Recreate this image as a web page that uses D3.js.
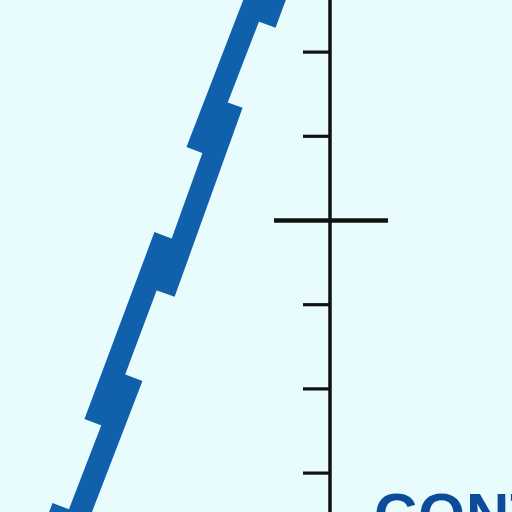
<!DOCTYPE html>
<html>
<head>
<meta charset="utf-8">
<script src="https://cdn.jsdelivr.net/npm/d3@7"></script>
<style>
  html, body { margin: 0; padding: 0; background: #e8fbfd; }
  svg { display: block; }
</style>
</head>
<body>
<div id="chart"></div>
<script>
// ---- data (in axis units; one unit = one tick interval) ----
const segStartX = [-0.32, -0.704, -1.164, -1.960, -2.352, -3.171];
const segStartY = [ 3.56,  3.088,  1.378, -0.190, -1.865, -3.409];
const segEndX   = [-0.772, -1.580, -1.971, -2.791, -3.373, -3.587];
const segEndY   = [ 2.328,  0.819, -0.867, -2.411, -4.513, -4.513];
const tickValues = [-3, -2, -1, 0, 1, 2];
const majorTick = 0;
const labelText = "CONT";

const W = 512, H = 512;
const unit = 84.2;
const x = d3.scaleLinear().domain([0, 1]).range([330, 330 + unit]);
const y = d3.scaleLinear().domain([0, 1]).range([220, 220 - unit]);

const svg = d3.select("#chart").append("svg")
  .attr("width", W).attr("height", H);

svg.append("rect").attr("width", W).attr("height", H).attr("fill", "#e8fbfd");

const segs = segStartX.map((d, i) => ({
  x1: d, y1: segStartY[i], x2: segEndX[i], y2: segEndY[i]
}));

// thick band segments (butt caps, overlapping -> block look)
svg.append("g").selectAll("line").data(segs).join("line")
  .attr("x1", d => x(d.x1)).attr("y1", d => y(d.y1))
  .attr("x2", d => x(d.x2)).attr("y2", d => y(d.y2))
  .attr("stroke", "#1160ab")
  .attr("stroke-width", 22.5)
  .attr("stroke-linecap", "butt");

// vertical axis with left ticks
const axis = d3.axisLeft(y).tickValues(tickValues).tickSize(27).tickFormat("");
const ag = svg.append("g").attr("transform", `translate(${x(0)},0)`).call(axis);
ag.select(".domain").remove();
ag.selectAll(".tick line").attr("stroke", "#111").attr("stroke-width", 3.2);
ag.selectAll(".tick").filter(d => d === majorTick).select("line")
  .attr("x1", 58).attr("x2", -56).attr("stroke-width", 4.5);

svg.append("line")
  .attr("x1", x(0)).attr("x2", x(0))
  .attr("y1", 0).attr("y2", H)
  .attr("stroke", "#111").attr("stroke-width", 3.5);

// label (cut off at the bottom edge, as in the reference)
svg.append("text")
  .attr("x", 374).attr("y", 535)
  .attr("font-family", "Liberation Sans, Arial, sans-serif")
  .attr("font-weight", "bold")
  .attr("font-size", 60)
  .attr("letter-spacing", 1)
  .attr("fill", "#0c4b98")
  .text(labelText);
</script>
</body>
</html>
